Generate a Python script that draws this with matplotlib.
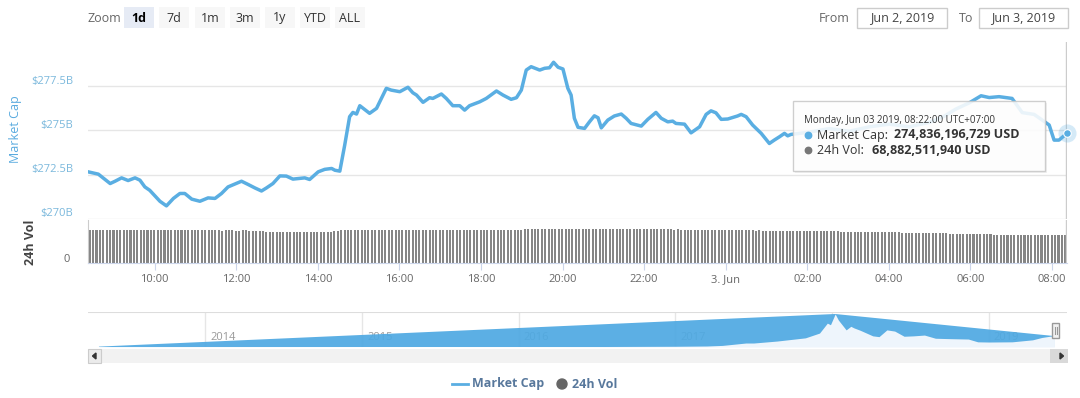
import numpy as np
import matplotlib
matplotlib.use('Agg')
import matplotlib.pyplot as plt
from matplotlib.patches import Rectangle, Polygon, Circle

plt.rcParams['font.family'] = ['Open Sans', 'DejaVu Sans']

W, H = 1080, 398

# market cap, hours since Jun 2 00:00 -> billions USD
T0, T1 = 8 + 22 / 60, 32 + 22 / 60
cap_t = [8.37, 8.62, 8.91, 9.03, 9.19, 9.35, 9.52, 9.64, 9.76, 9.88, 10.13, 10.29,
         10.46, 10.62, 10.74, 10.91, 11.11, 11.31, 11.48, 11.64, 11.80, 12.13, 12.29,
         12.46, 12.62, 12.74, 12.90, 13.07, 13.23, 13.39, 13.68, 13.80, 14.01, 14.17,
         14.34, 14.42, 14.54, 14.66, 14.78, 14.86, 14.95, 15.03, 15.27, 15.44, 15.68,
         15.80, 16.01, 16.21, 16.33, 16.42, 16.58, 16.74, 16.82, 17.03, 17.15, 17.31,
         17.48, 17.60, 17.72, 17.97, 18.13, 18.38, 18.54, 18.74, 18.87, 18.99, 19.11,
         19.23, 19.44, 19.56, 19.68, 19.78, 19.89, 20.01, 20.13, 20.21, 20.29, 20.38,
         20.54, 20.66, 20.78, 20.87, 20.95, 21.11, 21.27, 21.44, 21.56, 21.68, 21.93,
         22.09, 22.29, 22.42, 22.58, 22.70, 22.78, 22.99, 23.15, 23.36, 23.52, 23.64,
         23.76, 23.89, 24.05, 24.29, 24.38, 24.50, 24.66, 24.87, 25.07, 25.19, 25.32,
         25.44, 25.52, 25.60, 26.05, 26.54, 27.03, 27.52, 28.01, 28.50, 28.99, 29.36,
         29.64, 29.97, 30.26, 30.46, 30.70, 31.02, 31.27, 31.56, 31.76, 31.93, 32.05,
         32.17, 32.367]
cap_v = [272.66, 272.53, 272.00, 272.13, 272.32, 272.17, 272.32, 272.19, 271.81, 271.62,
         271.00, 270.74, 271.16, 271.44, 271.44, 271.12, 271.00, 271.19, 271.16, 271.44,
         271.81, 272.13, 271.95, 271.75, 271.58, 271.75, 272.00, 272.43, 272.42, 272.25,
         272.32, 272.23, 272.66, 272.80, 272.85, 272.75, 272.70, 274.17, 275.77, 276.01,
         275.92, 276.39, 275.96, 276.24, 277.37, 277.27, 277.18, 277.43, 277.12, 276.99,
         276.58, 276.84, 276.80, 277.05, 276.80, 276.39, 276.39, 276.14, 276.39, 276.61,
         276.80, 277.22, 276.99, 276.75, 276.84, 277.27, 278.40, 278.59, 278.40, 278.50,
         278.53, 278.84, 278.56, 278.46, 277.37, 276.99, 275.68, 275.17, 275.11, 275.48,
         275.82, 275.71, 275.14, 275.58, 275.81, 275.92, 275.68, 275.39, 275.24, 275.62,
         276.01, 275.68, 275.48, 275.52, 275.39, 275.35, 274.86, 275.20, 275.90, 276.10,
         275.99, 275.62, 275.64, 275.81, 275.90, 275.77, 275.30, 274.83, 274.26, 274.45,
         274.64, 274.83, 274.69, 274.77, 274.90, 275.10, 274.95, 275.20, 275.35, 275.20,
         275.45, 275.80, 276.20, 276.55, 276.95, 276.85, 276.90, 276.80, 276.00, 275.90,
         275.58, 275.30, 274.45, 274.45, 274.836]

# 24h volume, one row per hour of 5-minute bars (billions USD)
vol_rows = [
    [81.0, 81.2, 81.3, 81.1, 81.0, 80.9, 81.2, 81.4, 81.3, 81.0, 80.8, 80.9],
    [81.0, 80.8, 80.7, 80.9, 81.0, 80.8, 80.6, 80.7, 80.9, 80.8, 80.6, 80.5],
    [80.6, 80.7, 80.5, 80.4, 80.6, 80.5, 80.3, 80.4, 80.6, 80.5, 80.4, 80.2],
    [80.3, 80.4, 80.2, 80.1, 80.3, 80.4, 80.2, 80.0, 80.1, 80.3, 80.2, 80.0],
    [79.8, 79.5, 79.0, 78.2, 77.5, 77.2, 76.8, 76.5, 76.6, 76.4, 76.2, 76.5],
    [76.3, 76.1, 76.4, 76.2, 76.0, 76.3, 76.5, 76.2, 76.0, 76.4, 76.8, 77.5],
    [78.5, 79.6, 80.5, 80.8, 81.0, 81.2, 81.0, 80.9, 81.1, 81.3, 81.0, 80.8],
    [81.0, 81.2, 81.4, 81.3, 81.1, 81.0, 81.2, 81.5, 81.4, 81.2, 81.0, 81.1],
    [81.3, 81.2, 81.0, 81.1, 81.3, 81.4, 81.2, 81.0, 80.9, 81.1, 81.2, 81.0],
    [80.9, 81.1, 81.3, 81.2, 81.0, 81.1, 81.4, 81.6, 81.5, 81.3, 81.4, 81.6],
    [81.8, 82.0, 81.9, 82.1, 82.3, 82.2, 82.0, 82.4, 82.6, 82.8, 83.0, 83.2],
    [83.4, 83.6, 83.5, 83.3, 83.6, 83.8, 83.7, 83.5, 83.4, 83.6, 83.8, 83.9],
    [83.7, 83.8, 83.6, 83.9, 84.0, 83.8, 83.7, 83.9, 84.0, 83.8, 83.6, 83.7],
    [83.5, 83.6, 83.4, 83.3, 83.5, 83.6, 83.4, 83.2, 83.3, 83.5, 83.4, 83.2],
    [83.0, 82.8, 82.9, 82.7, 82.5, 82.6, 82.4, 82.2, 82.3, 82.1, 81.9, 82.0],
    [81.8, 81.6, 81.7, 81.5, 81.3, 81.4, 81.2, 81.0, 81.1, 80.9, 80.7, 80.8],
    [80.6, 80.4, 80.5, 80.3, 80.1, 80.2, 80.0, 79.8, 79.9, 79.7, 79.5, 79.6],
    [79.4, 79.2, 79.3, 79.1, 78.9, 79.0, 78.8, 78.6, 78.7, 78.5, 78.3, 78.4],
    [78.2, 78.0, 77.8, 77.9, 77.7, 77.5, 77.3, 77.4, 77.2, 77.0, 76.8, 76.9],
    [76.7, 76.5, 76.3, 76.4, 76.2, 76.0, 75.8, 75.6, 75.7, 75.5, 75.3, 75.1],
    [74.9, 74.7, 74.8, 74.5, 74.3, 74.1, 73.9, 73.7, 73.8, 73.5, 73.3, 73.1],
    [72.9, 72.7, 72.5, 72.3, 72.1, 71.9, 71.7, 71.5, 71.3, 71.1, 70.9, 70.7],
    [70.5, 70.3, 70.2, 70.0, 69.8, 69.7, 69.6, 69.5, 69.4, 69.3, 69.2, 69.1],
    [69.1, 69.0, 69.0, 68.9, 69.0, 68.9, 68.9, 68.8, 68.9, 68.9, 68.8, 68.88],
]

x_ticks = [10, 12, 14, 16, 18, 20, 22, 24, 26, 28, 30, 32]
x_labels = ['10:00', '12:00', '14:00', '16:00', '18:00', '20:00', '22:00',
            '3. Jun', '02:00', '04:00', '06:00', '08:00']
cap_ticks = [270, 272.5, 275, 277.5]
cap_labels = ['$270B', '$272.5B', '$275B', '$277.5B']

# navigator: whole history (year, billions USD)
hist_t = [2013.32, 2013.9, 2014.0, 2014.5, 2015.0, 2015.5, 2016.0, 2016.5, 2017.0,
          2017.2, 2017.3, 2017.45, 2017.5, 2017.65, 2017.83, 2017.92, 2017.97, 2017.99,
          2018.02, 2018.04, 2018.09, 2018.12, 2018.14, 2018.18, 2018.26, 2018.3, 2018.35,
          2018.4, 2018.46, 2018.52, 2018.59, 2018.66, 2018.75, 2018.87, 2018.93, 2019.0,
          2019.15, 2019.28, 2019.34, 2019.39, 2019.42]
hist_v = [10, 12, 10, 8, 5, 4, 7, 12, 18, 25, 40, 100, 100, 150, 230, 350, 600, 560,
          830, 680, 430, 520, 480, 420, 280, 260, 430, 400, 270, 280, 300, 220, 210,
          200, 130, 125, 130, 180, 240, 270, 275]
years = [2014, 2015, 2016, 2017, 2018, 2019]

BLUE = '#5aaee2'
GRID = '#e6e6e6'


def px_axes(x0, y0, x1, y1):
    return fig.add_axes([x0 / W, 1 - y1 / H, (x1 - x0) / W, (y1 - y0) / H])


fig = plt.figure(figsize=(W / 100, H / 100), dpi=100)

# ---- main market cap pane
ax = px_axes(88, 41.7, 1067, 219)
ax.set_xlim(T0, T1)
ax.set_ylim(270, 280)
for v in cap_ticks:
    ax.axhline(v, color=GRID, lw=1, zorder=0)
for v, lab in zip(cap_ticks, cap_labels):
    ax.annotate(lab, xy=(0, v), xycoords=('axes fraction', 'data'),
                xytext=(-15, 5), textcoords='offset pixels', ha='right', va='center',
                fontsize=8, color='#7ab8dc')
ax.axvline(T1 - 0.02, color='#cccccc', lw=1, zorder=1)
ax.plot(cap_t, cap_v, color=BLUE, lw=2.5, solid_joinstyle='round', zorder=3)
ax.scatter([cap_t[-1]], [cap_v[-1]], s=170, color=BLUE, alpha=0.25, lw=0, zorder=4, clip_on=False)
ax.scatter([cap_t[-1]], [cap_v[-1]], s=30, color=BLUE, edgecolor='white', lw=0.8, zorder=5, clip_on=False)
ax.set_xticks([])
ax.set_yticks([])
for s in ax.spines.values():
    s.set_visible(False)

# ---- volume pane
vol = np.array(vol_rows).ravel()
vol_t = T0 + (np.arange(len(vol)) + 0.5) * 5 / 60
axv = px_axes(88, 220, 1067, 263)
axv.set_xlim(T0, T1)
axv.set_ylim(0, 106)
axv.bar(vol_t, vol, width=0.05, color='#858585', lw=0)
axv.axvline(T1 - 0.02, color='#cccccc', lw=1)
axv.set_yticks([])
axv.set_xticks(x_ticks)
axv.set_xticklabels(x_labels)
axv.tick_params(axis='x', length=5, color='#ccd6eb', labelcolor='#666666', labelsize=8, pad=3)
for k in ['top', 'right']:
    axv.spines[k].set_visible(False)
axv.spines['left'].set_color('#cccccc')
axv.spines['bottom'].set_color('#ccd6eb')

# ---- navigator
axn = px_axes(88, 312, 1067, 347)
axn.set_xlim(2013.25, 2019.5)
axn.set_ylim(0, 880)
for yr in years:
    axn.axvline(yr, color=GRID, lw=1, zorder=0)
    axn.annotate(str(yr), xy=(yr, 0), xycoords=('data', 'axes fraction'),
                 xytext=(5, 4), textcoords='offset pixels', ha='left', va='bottom',
                 fontsize=8, color='#999999', zorder=1)
ipk = int(np.argmax(hist_v))
env_x = [hist_t[0], hist_t[ipk], hist_t[-1], hist_t[-1], hist_t[0]]
env_y = [hist_v[0], hist_v[ipk], hist_v[-1], 0, 0]
axn.fill(env_x, env_y, color='#4fa9e2', alpha=0.93, lw=0, zorder=2)
axn.fill_between(hist_t, hist_v, 0, color='#eef5fc', lw=0, zorder=3)
axn.axhline(880, color='#dddddd', lw=1.5, zorder=4)
axn.axis('off')

# ---- overlay for chart chrome (pixel coordinates)
ov = fig.add_axes([0, 0, 1, 1], facecolor='none')
ov.set_xlim(0, W)
ov.set_ylim(H, 0)
ov.axis('off')

ov.text(88, 18, 'Zoom', fontsize=9, color='#666666', ha='left', va='center')
buttons = ['1d', '7d', '1m', '3m', '1y', 'YTD', 'ALL']
bx = [124, 159, 195, 230, 265, 300, 335]
for i, (b, x) in enumerate(zip(buttons, bx)):
    sel = i == 0
    ov.add_patch(Rectangle((x, 7), 30, 21, facecolor='#e6ebf5' if sel else '#f7f7f7', lw=0))
    ov.text(x + 15, 18, b, fontsize=9, ha='center', va='center',
            color='#000000' if sel else '#333333', fontweight='bold' if sel else 'normal')

ov.text(850, 18, 'From', fontsize=9, color='#666666', ha='right', va='center')
ov.add_patch(Rectangle((857, 7.5), 90, 20.5, facecolor='white', edgecolor='#cccccc', lw=1))
ov.text(902, 18, 'Jun 2, 2019', fontsize=9, color='#444444', ha='center', va='center')
ov.text(973, 18, 'To', fontsize=9, color='#666666', ha='right', va='center')
ov.add_patch(Rectangle((979, 7.5), 89, 20.5, facecolor='white', edgecolor='#cccccc', lw=1))
ov.text(1023.5, 18, 'Jun 3, 2019', fontsize=9, color='#444444', ha='center', va='center')

ov.text(16, 129, 'Market Cap', fontsize=9, color='#5aabdf', rotation=90, ha='center', va='center')
ov.text(31, 242, '24h Vol', fontsize=9, color='#444444', fontweight='bold', rotation=90,
        ha='center', va='center')
ov.text(70, 259, '0', fontsize=8, color='#666666', ha='right', va='center')

# tooltip
ov.add_patch(Rectangle((795, 103), 252, 70, facecolor='#000000', alpha=0.06, lw=0))
ov.add_patch(Rectangle((793, 101), 252, 70, facecolor='white', alpha=0.88,
                       edgecolor='#c8c8c8', lw=1))
ov.text(804, 121, 'Monday, Jun 03 2019, 08:22:00 UTC+07:00', fontsize=7, color='#333333',
        ha='left', va='center')
ov.add_patch(Circle((808.5, 135.5), 3.2, color=BLUE))
ov.text(817, 135, 'Market Cap:', fontsize=9, color='#333333', ha='left', va='center')
ov.text(894, 135, '274,836,196,729 USD', fontsize=9, color='#333333', fontweight='bold',
        ha='left', va='center')
ov.add_patch(Circle((808.5, 150.5), 3.2, color='#777777'))
ov.text(817, 150, '24h Vol:', fontsize=9, color='#333333', ha='left', va='center')
ov.text(871.5, 150, '68,882,511,940 USD', fontsize=9, color='#333333', fontweight='bold',
        ha='left', va='center')

# navigator handle
ov.add_patch(Rectangle((1052, 323), 7, 15, facecolor='#f2f2f2', edgecolor='#999999', lw=1))
ov.plot([1054.5, 1054.5], [327, 334], color='#999999', lw=0.8)
ov.plot([1056.5, 1056.5], [327, 334], color='#999999', lw=0.8)

# scrollbar
ov.add_patch(Rectangle((88, 349), 980, 14, facecolor='#f2f2f2', lw=0))
ov.add_patch(Rectangle((88, 349), 13, 14, facecolor='#ebebeb', edgecolor='#cccccc', lw=0.8))
ov.add_patch(Polygon([(96, 353), (96, 359), (92.5, 356)], closed=True, color='#333333'))
ov.add_patch(Rectangle((1050, 349), 18, 14, facecolor='#d9d9d9', lw=0))
ov.add_patch(Polygon([(1060, 353), (1060, 359), (1063.5, 356)], closed=True, color='#333333'))

# legend
ov.plot([452, 468], [384, 384], color=BLUE, lw=2)
ov.text(472, 384, 'Market Cap', fontsize=9, color='#58789c', fontweight='bold',
        ha='left', va='center')
ov.add_patch(Circle((562, 384), 5, color='#666666'))
ov.text(572, 384, '24h Vol', fontsize=9, color='#58789c', fontweight='bold',
        ha='left', va='center')

fig.savefig('out.png', dpi=100)
